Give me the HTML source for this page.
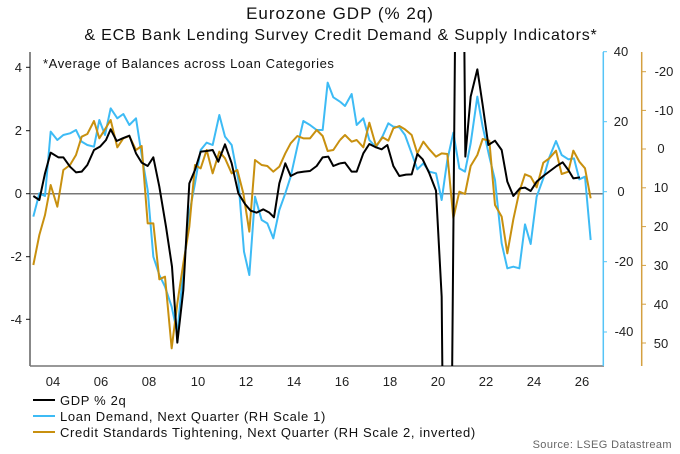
<!DOCTYPE html>
<html><head><meta charset="utf-8"><style>
html,body{margin:0;padding:0;background:#fff;width:680px;height:454px;overflow:hidden}
svg{display:block;font-family:"Liberation Sans",sans-serif}
</style></head><body>
<svg width="680" height="454" viewBox="0 0 680 454">
<defs><clipPath id="c"><rect x="30" y="52" width="574" height="314"/></clipPath></defs>
<text x="340" y="19" font-size="17" letter-spacing="1" text-anchor="middle" fill="#111">Eurozone GDP (% 2q)</text>
<text x="341" y="40" font-size="16" letter-spacing="0.8" text-anchor="middle" fill="#111">&amp; ECB Bank Lending Survey Credit Demand &amp; Supply Indicators*</text>
<text x="43" y="68" font-size="13" letter-spacing="0.6" fill="#111">*Average of Balances across Loan Categories</text>
<line x1="30" y1="52" x2="30" y2="366" stroke="#111" stroke-width="1"/>
<line x1="30" y1="366" x2="604" y2="366" stroke="#777" stroke-width="1.5"/>
<line x1="30" y1="193.7" x2="603" y2="193.7" stroke="#777" stroke-width="1.5"/>
<line x1="603.3" y1="52" x2="603.3" y2="366" stroke="#55c4f7" stroke-width="1.5"/>
<line x1="641.7" y1="52" x2="641.7" y2="366" stroke="#d4a040" stroke-width="1.5"/>
<g font-size="13" fill="#222" text-anchor="end">
<text x="22" y="72">4</text><text x="22" y="135">2</text><text x="22" y="198">0</text><text x="22" y="261">-2</text><text x="22" y="324">-4</text>
</g>
<g stroke="#111"><line x1="26" y1="67.3" x2="30" y2="67.3"/><line x1="26" y1="130.7" x2="30" y2="130.7"/><line x1="26" y1="193.7" x2="30" y2="193.7"/><line x1="26" y1="256.7" x2="30" y2="256.7"/><line x1="26" y1="319.3" x2="30" y2="319.3"/></g>
<g stroke="#55c4f7"><line x1="603" y1="51.7" x2="607" y2="51.7"/><line x1="603" y1="121.7" x2="607" y2="121.7"/><line x1="603" y1="191.7" x2="607" y2="191.7"/><line x1="603" y1="261.7" x2="607" y2="261.7"/><line x1="603" y1="332" x2="607" y2="332"/></g>
<g font-size="13" fill="#222" text-anchor="middle">
<text x="621" y="56">40</text><text x="621" y="126">20</text><text x="621" y="196">0</text><text x="624" y="266">-20</text><text x="624" y="336">-40</text>
</g>
<g stroke="#d4a040"><line x1="641.7" y1="71.7" x2="646" y2="71.7"/><line x1="641.7" y1="110.4" x2="646" y2="110.4"/><line x1="641.7" y1="149" x2="646" y2="149"/><line x1="641.7" y1="187.8" x2="646" y2="187.8"/><line x1="641.7" y1="226.6" x2="646" y2="226.6"/><line x1="641.7" y1="265.4" x2="646" y2="265.4"/><line x1="641.7" y1="304.2" x2="646" y2="304.2"/><line x1="641.7" y1="343" x2="646" y2="343"/></g>
<g font-size="13" fill="#222" text-anchor="middle">
<text x="664" y="76">-20</text><text x="664" y="115">-10</text><text x="661" y="153">0</text><text x="661" y="192">10</text><text x="661" y="231">20</text><text x="661" y="270">30</text><text x="661" y="309">40</text><text x="661" y="348">50</text>
</g>
<g font-size="13" fill="#222" text-anchor="middle">
<text x="53" y="386">04</text><text x="101" y="386">06</text><text x="149" y="386">08</text><text x="198" y="386">10</text><text x="246" y="386">12</text><text x="294" y="386">14</text><text x="342" y="386">16</text><text x="390" y="386">18</text><text x="438" y="386">20</text><text x="486" y="386">22</text><text x="534" y="386">24</text><text x="582" y="386">26</text>
</g>
<g clip-path="url(#c)" fill="none" stroke-width="2" stroke-linejoin="round">
<g transform="translate(0,40) scale(0.33333)">
<polyline vector-effect="non-scaling-stroke" stroke="#3dbbf5" points="100,530 118,460 135,468 152,275 172,300 190,285 210,280 228,270 245,305 262,315 282,320 298,240 315,285 332,205 352,235 370,222 388,255 408,235 425,345 443,450 460,650 478,705 495,740 515,800 532,880 550,690 568,520 585,430 602,330 620,308 638,315 658,225 675,290 695,315 715,420 732,635 748,705 765,470 785,540 802,550 820,595 838,510 856,460 872,410 892,320 910,243 930,255 950,270 968,270 983,128 1000,172 1020,185"/>
<polyline vector-effect="non-scaling-stroke" stroke="#c8900f" points="100,675 118,585 135,525 152,435 172,500 190,390 210,375 228,345 245,290 262,282 282,243 298,295 315,268 332,240 352,322 370,295 388,288 408,330 425,318 443,550 460,550 478,718 495,710 515,925 532,790 550,670 568,560 585,375 602,385 620,330 638,400 658,335 675,355 695,400 712,390 730,460 748,575 765,360 785,375 802,378 820,395 838,380 856,340 872,310 892,288 910,295 930,295 950,270 968,288 983,333 1000,330 1020,300"/>
<polyline vector-effect="non-scaling-stroke" stroke="#000" points="100,468 118,480 135,400 152,338 175,352 190,352 210,380 228,397 245,395 262,375 282,330 300,320 318,300 332,268 350,303 368,295 388,287 408,340 425,368 443,378 460,352 478,440 498,560 516,680 532,908 550,750 568,430 585,390 602,335 620,333 638,330 655,365 675,313 695,370 715,460 735,492 752,512 770,518 790,508 808,518 822,532 838,430 856,370 872,408 892,398 912,395 930,393 950,378 968,352 985,350 1000,378 1020,370"/>
</g>
<g transform="translate(340,40) scale(0.33333)">
<polyline vector-effect="non-scaling-stroke" stroke="#3dbbf5" points="0,185 15,198 35,162 50,255 70,235 88,300 108,322 128,288 145,250 160,260 178,262 195,285 215,340 232,388 250,370 268,395 288,400 305,480 322,360 340,278 358,385 375,395 392,310 412,170 428,260 448,350 465,420 485,610 502,685 520,680 538,685 555,553 572,612 590,470 610,415 628,352 648,303 665,345 685,358 702,355 718,418 735,410 752,600"/>
<polyline vector-effect="non-scaling-stroke" stroke="#c8900f" points="0,300 15,285 35,305 50,300 70,322 88,248 108,318 128,292 145,302 160,265 178,258 195,268 215,285 232,340 250,305 268,328 288,350 305,340 322,342 340,535 358,455 375,462 392,378 412,345 428,297 448,302 465,495 485,530 502,640 520,538 538,455 555,403 572,410 590,442 610,368 628,355 648,332 665,402 685,395 700,332 718,365 735,385 752,475"/>
<polyline vector-effect="non-scaling-stroke" stroke="#000" points="0,370 15,368 35,395 50,395 70,340 88,312 108,322 125,328 142,315 160,378 178,408 198,404 215,403 232,342 248,358 268,400 288,452 305,770 312,1500 332,1500 346,-100 372,-100 376,350 392,170 412,88 428,195 445,315 465,302 485,330 502,425 520,468 540,445 555,443 572,453 590,425 610,408 630,393 650,378 668,367 685,390 700,415 720,412"/>
</g>
</g>
<g stroke-width="2"><line x1="33" y1="400" x2="55" y2="400" stroke="#000"/><line x1="33" y1="416" x2="55" y2="416" stroke="#3dbbf5"/><line x1="33" y1="432" x2="55" y2="432" stroke="#c8900f"/></g>
<g font-size="13" fill="#111" letter-spacing="0.65">
<text x="60" y="405">GDP % 2q</text>
<text x="60" y="421">Loan Demand, Next Quarter (RH Scale 1)</text>
<text x="60" y="437">Credit Standards Tightening, Next Quarter (RH Scale 2, inverted)</text>
</g>
<text x="672" y="448" font-size="11" fill="#666" letter-spacing="0.4" text-anchor="end">Source: LSEG Datastream</text>
</svg>
</body></html>
